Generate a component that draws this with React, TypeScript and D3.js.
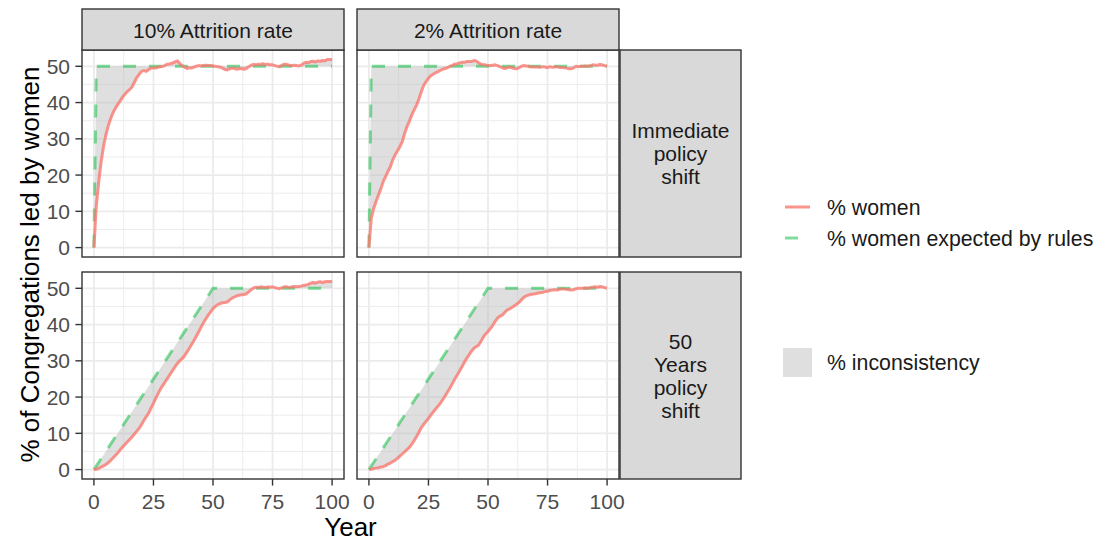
import React from "react";
import * as d3 from "d3";

// ---------- DATA ----------
const years = d3.range(0, 101);

const colLabels = ["10% Attrition rate", "2% Attrition rate"];
const rowLabels = [["Immediate", "policy", "shift"], ["50", "Years", "policy", "shift"]];

const xTicks = [0, 25, 50, 75, 100];
const xMinor = [12.5, 37.5, 62.5, 87.5];
const yTicks = [0, 10, 20, 30, 40, 50];
const yMinor = [5, 15, 25, 35, 45];

const legendLabels = ["% women", "% women expected by rules", "% inconsistency"];

// expected-by-rules breakpoints
const expectedImmediateYears = [0, 1, 100];
const expectedImmediateValues = [0, 50, 50];
const expectedGradualYears = [0, 50, 100];
const expectedGradualValues = [0, 50, 50];

// % women, 10% attrition, immediate shift (years 0..100)
const women10Immediate = [
  0, 11.5, 18, 23.5, 27.8, 31, 33.5, 35.5, 37.2, 38.4,
  39.5, 40.4, 41.5, 42.3, 43, 43.6, 44.3, 45.6, 46.9, 47.8,
  48.6, 48.8, 48.6, 49.1, 49.5, 49.6, 49.5, 49.8, 49.9, 50.0,
  50.3, 50.6, 50.7, 50.9, 51.2, 51.5, 50.8, 50.2, 49.8, 49.4,
  49.6, 49.5, 49.8, 50.0, 50.2, 50.1, 50.2, 50.3, 50.2, 50.2,
  50.1, 50.0, 49.9, 49.8, 49.5, 49.1, 49.0, 49.3, 49.5, 49.4,
  49.2, 49.3, 49.4, 49.2, 49.4, 49.9, 50.3, 50.5, 50.4, 50.6,
  50.5, 50.7, 50.5, 50.6, 50.4, 50.4, 50.2, 50.0, 49.9, 50.3,
  50.6, 50.5, 50.3, 50.2, 50.3, 50.2, 50.1, 50.3, 50.8, 51.1,
  51.0, 51.3, 51.4, 51.2, 51.5, 51.4, 51.6, 51.5, 51.9, 51.9,
  51.9,
];

// % women, 2% attrition, immediate shift
const women2Immediate = [
  0, 8.1, 10.8, 12.7, 14.5, 16.2, 18.2, 19.6, 21, 22.3,
  24.2, 25.6, 26.7, 27.8, 29.2, 31.5, 33.4, 34.9, 36.6, 38,
  39.3, 41, 43, 44.7, 45.8, 46.7, 47.4, 47.8, 48.2, 48.5,
  48.9, 49.2, 49.4, 49.6, 50, 50.2, 50.6, 50.7, 50.9, 51.1,
  51.1, 51.3, 51.3, 51.3, 51.6, 51.5, 51, 50.6, 50.4, 50.4,
  50.2, 50.2, 50.3, 50.4, 50.2, 49.9, 49.6, 49.4, 49.6, 49.8,
  49.6, 49.4, 49.3, 49.6, 50, 50.2, 50.1, 50, 49.8, 49.8,
  49.8, 49.8, 49.7, 49.9, 49.8, 49.6, 49.9, 49.7, 49.8, 49.9,
  49.7, 49.7, 49.6, 49.5, 49.3, 49.3, 49.6, 50.0, 49.9, 50.0,
  50.0, 50.1, 50.0, 50.2, 50.4, 50.3, 50.3, 50.5, 50.4, 50.2,
  50.0,
];

// % women, 10% attrition, 50 years shift
const women10Gradual = [
  0, 0.1, 0.3, 0.7, 1.0, 1.4, 1.9, 2.5, 3.2, 3.9,
  4.6, 5.4, 6.2, 6.9, 7.6, 8.3, 9.0, 9.8, 10.6, 11.4,
  12.4, 13.6, 14.6, 15.6, 17.0, 18.3, 19.7, 21.0, 22.3, 23.3,
  24.3, 25.3, 26.3, 27.3, 28.3, 29.2, 30.0, 30.6, 31.3, 32.4,
  33.4, 34.5, 35.6, 36.8, 38.0, 39.3, 40.5, 41.6, 42.6, 43.5,
  44.4, 45.0, 45.5, 45.8, 46.0, 46.1, 46.2, 46.8, 47.3, 47.6,
  47.9, 48.1, 48.2, 48.3, 48.5, 49.0, 49.6, 50.1, 50.3, 50.2,
  50.4, 50.3, 50.2, 50.4, 50.3, 50.4, 50.2, 50.0, 49.9, 50.2,
  50.4, 50.4, 50.2, 50.4, 50.5, 50.4, 50.5, 50.6, 50.8, 50.9,
  51.1, 51.4, 51.6, 51.4, 51.7, 51.8, 51.6, 51.8, 51.9, 51.9,
  51.9,
];

// % women, 2% attrition, 50 years shift
const women2Gradual = [
  0, 0.1, 0.3, 0.4, 0.5, 0.7, 0.8, 1.1, 1.5, 1.8,
  2.2, 2.6, 3.1, 3.7, 4.3, 4.9, 5.5, 6.1, 7.0, 8.0,
  9.1, 10.3, 11.6, 12.5, 13.3, 14.1, 15.0, 15.9, 16.7, 17.5,
  18.3, 19.3, 20.3, 21.4, 22.5, 23.7, 24.9, 26.0, 27.1, 28.3,
  29.5, 30.6, 31.6, 32.6, 33.4, 33.9, 34.3, 35.3, 36.5, 37.4,
  38.1, 38.9, 39.8, 40.9, 41.8, 42.3, 42.6, 43.3, 44.0, 44.3,
  44.7, 45.1, 45.6, 46.1, 46.8, 47.5, 47.9, 48.1, 48.3, 48.4,
  48.5, 48.7, 48.8, 48.9, 49.1, 49.2, 49.4, 49.5, 49.6, 49.5,
  49.7, 49.8, 49.8, 49.7, 49.6, 49.5, 49.6, 49.9, 50.0, 50.0,
  50.0, 50.1, 50.0, 50.2, 50.3, 50.4, 50.3, 50.5, 50.4, 50.2,
  50.0,
];

// ---------- STYLE ----------
const FONT = "'Liberation Sans', Arial, Helvetica, sans-serif";
const RED = "#F8766D";
const GREEN = "#00BA38";
const RIBBON = "#B8B8B8";

const W = 1099;
const H = 541;
const cols = [
  { left: 82, right: 344 },
  { left: 357, right: 619 },
];
const rows = [
  { top: 50, bottom: 257 },
  { top: 272, bottom: 479 },
];
const stripTop = 9;
const rStripL = 620;
const rStripR = 741;

const yMax = 51.9;

export default function App() {
  const panels = [
    { r: 0, c: 0, women: women10Immediate, ey: expectedImmediateYears, ev: expectedImmediateValues },
    { r: 0, c: 1, women: women2Immediate, ey: expectedImmediateYears, ev: expectedImmediateValues },
    { r: 1, c: 0, women: women10Gradual, ey: expectedGradualYears, ev: expectedGradualValues },
    { r: 1, c: 1, women: women2Gradual, ey: expectedGradualYears, ev: expectedGradualValues },
  ];

  const xScale = (c: number) =>
    d3.scaleLinear().domain([-5, 105]).range([cols[c].left, cols[c].right]);
  const yScale = (r: number) =>
    d3.scaleLinear().domain([-0.05 * yMax, yMax * 1.05]).range([rows[r].bottom, rows[r].top]);

  return (
    <svg
      width={W}
      height={H}
      style={{ position: "absolute", left: 0, top: 0, background: "#fff" }}
      fontFamily={FONT}
    >
      <rect x={0} y={0} width={W} height={H} fill="#fff" />
      {panels.map((p, i) => {
        const x = xScale(p.c);
        const y = yScale(p.r);
        const col = cols[p.c];
        const row = rows[p.r];
        const expFn = d3.scaleLinear().domain(p.ey).range(p.ev);
        const area = d3
          .area<number>()
          .x((t) => x(t))
          .y0((t) => y(expFn(t)))
          .y1((t, k) => y(p.women[k]));
        const womenLine = d3
          .line<number>()
          .x((t) => x(t))
          .y((t, k) => y(p.women[k]));
        const expLine = d3
          .line<number>()
          .x((t) => x(t))
          .y((t) => y(expFn(t)));
        return (
          <g key={i}>
            <rect x={col.left} y={row.top} width={col.right - col.left} height={row.bottom - row.top} fill="#fff" />
            {xMinor.map((v) => (
              <line key={"xm" + v} x1={x(v)} x2={x(v)} y1={row.top} y2={row.bottom} stroke="#EBEBEB" strokeWidth={0.9} />
            ))}
            {yMinor.map((v) => (
              <line key={"ym" + v} x1={col.left} x2={col.right} y1={y(v)} y2={y(v)} stroke="#EBEBEB" strokeWidth={0.9} />
            ))}
            {xTicks.map((v) => (
              <line key={"xM" + v} x1={x(v)} x2={x(v)} y1={row.top} y2={row.bottom} stroke="#EBEBEB" strokeWidth={1.8} />
            ))}
            {yTicks.map((v) => (
              <line key={"yM" + v} x1={col.left} x2={col.right} y1={y(v)} y2={y(v)} stroke="#EBEBEB" strokeWidth={1.8} />
            ))}
            <path d={area(years) || ""} fill={RIBBON} fillOpacity={0.45} />
            <path
              d={expLine(p.ey) || ""}
              fill="none"
              stroke={GREEN}
              strokeOpacity={0.5}
              strokeWidth={3}
              strokeDasharray="13 13"
            />
            <path d={womenLine(years) || ""} fill="none" stroke={RED} strokeOpacity={0.78} strokeWidth={3} strokeLinejoin="round" />
            <rect
              x={col.left}
              y={row.top}
              width={col.right - col.left}
              height={row.bottom - row.top}
              fill="none"
              stroke="#333333"
              strokeWidth={1.4}
            />
            {p.c === 0 &&
              yTicks.map((v) => (
                <g key={"yt" + v}>
                  <line x1={col.left - 6.6} x2={col.left} y1={y(v)} y2={y(v)} stroke="#333333" strokeWidth={1.4} />
                  <text x={70} y={y(v) + 7.5} textAnchor="end" fontSize={21} fill="#4D4D4D">
                    {v}
                  </text>
                </g>
              ))}
            {p.r === 1 &&
              xTicks.map((v) => (
                <g key={"xt" + v}>
                  <line x1={x(v)} x2={x(v)} y1={row.bottom} y2={row.bottom + 6.6} stroke="#333333" strokeWidth={1.4} />
                  <text x={x(v)} y={508.5} textAnchor="middle" fontSize={21} fill="#4D4D4D">
                    {v}
                  </text>
                </g>
              ))}
          </g>
        );
      })}

      {/* top strips */}
      {cols.map((c, i) => (
        <g key={"ts" + i}>
          <rect x={c.left} y={stripTop} width={c.right - c.left} height={rows[0].top - stripTop} fill="#D9D9D9" stroke="#333333" strokeWidth={1.4} />
          <text x={(c.left + c.right) / 2} y={38} textAnchor="middle" fontSize={21} fill="#1A1A1A">
            {colLabels[i]}
          </text>
        </g>
      ))}

      {/* right strips */}
      {rows.map((r, i) => {
        const lines = rowLabels[i];
        const mid = (r.top + r.bottom) / 2;
        const lh = 23;
        const first = mid - ((lines.length - 1) * lh) / 2 + 7.5;
        return (
          <g key={"rs" + i}>
            <rect x={rStripL} y={r.top} width={rStripR - rStripL} height={r.bottom - r.top} fill="#D9D9D9" stroke="#333333" strokeWidth={1.4} />
            {lines.map((s, k) => (
              <text key={k} x={(rStripL + rStripR) / 2} y={first + k * lh} textAnchor="middle" fontSize={21} fill="#1A1A1A">
                {s}
              </text>
            ))}
          </g>
        );
      })}

      {/* axis titles */}
      <text x={(cols[0].left + cols[1].right) / 2} y={535.5} textAnchor="middle" fontSize={26} fill="#000">
        Year
      </text>
      <text
        transform={`translate(38.5, ${(rows[0].top + rows[1].bottom) / 2}) rotate(-90)`}
        textAnchor="middle"
        fontSize={26}
        fill="#000"
      >
        % of Congregations led by women
      </text>

      {/* legend */}
      <line x1={785} x2={810} y1={207} y2={207} stroke={RED} strokeOpacity={0.78} strokeWidth={3} />
      <text x={827} y={214.5} fontSize={21.3} fill="#1A1A1A">
        {legendLabels[0]}
      </text>
      <line x1={785} x2={809} y1={238} y2={238} stroke={GREEN} strokeOpacity={0.5} strokeWidth={3} strokeDasharray="13 13" />
      <text x={827} y={245.5} fontSize={21.3} fill="#1A1A1A">
        {legendLabels[1]}
      </text>
      <rect x={783} y={348} width={29} height={29} fill={RIBBON} fillOpacity={0.45} />
      <text x={827} y={370} fontSize={21.3} fill="#1A1A1A">
        {legendLabels[2]}
      </text>
    </svg>
  );
}
